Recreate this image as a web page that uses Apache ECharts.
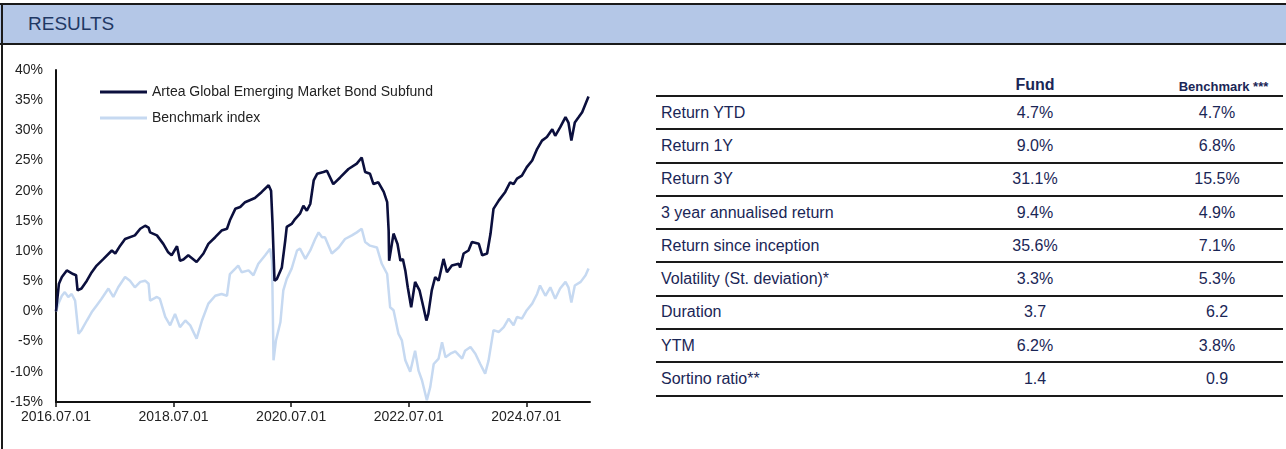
<!DOCTYPE html>
<html>
<head>
<meta charset="UTF-8">
<title>Results</title>
<script src="https://cdn.jsdelivr.net/npm/echarts@6/dist/echarts.min.js"></script>
<style>
body {
    margin: 0;
    padding: 0;
    background: #fff;
    font-family: "Liberation Sans", Arial, sans-serif;
}
.page {
    position: relative;
    width: 1286px;
    height: 449px;
    overflow: hidden;
}
.bar-top { position: absolute; left: 0; top: 3px; width: 1286px; height: 2px; background: #1a1a1a; }
.bar-head {
    position: absolute; left: 0; top: 5px; width: 1286px; height: 38px;
    background: #b4c7e7; color: #1f3864; font-size: 19px; line-height: 38px;
}
.bar-head span { padding-left: 28px; }
.bar-bottom { position: absolute; left: 0; top: 43px; width: 1286px; height: 2px; background: #1a1a1a; }
.bar-left { position: absolute; left: 1px; top: 3px; width: 2px; height: 446px; background: #1a1a1a; }
#main { position: absolute; left: 0; top: 0; width: 640px; height: 449px; }
.tbl { position: absolute; left: 656px; top: 64px; width: 627px; color: #1a2656; }
.row {
    display: flex; box-sizing: border-box; height: 33.3px;
    border-bottom: 2px solid #1a1a1a; align-items: center; font-size: 16px;
}
.row.head { height: 33px; align-items: flex-end; padding-bottom: 1px; font-weight: bold; }
.c1 { width: 275px; padding-left: 5px; }
.c2 { width: 198px; text-align: center; }
.c3 { width: 149px; text-align: center; padding-left: 17px; box-sizing: border-box; }
.head .c2 { font-size: 16px; }
.head .c3 { font-size: 13px; padding-left: 30px; padding-bottom: 0; }
</style>
</head>
<body>
<div class="page">
  <div id="main"></div>
  <div class="bar-top"></div>
  <div class="bar-head"><span>RESULTS</span></div>
  <div class="bar-bottom"></div>
  <div class="bar-left"></div>
  <div class="tbl" id="tbl"></div>
</div>
<script>
// months since 2016.07.01 / cumulative return in %
var fundMonth = [0,0.3,0.6,1.2,2.2,3.5,4.1,4.4,5.2,6.3,7.3,8.3,9.7,11.4,12.1,13.1,14.1,16.1,17.2,18.2,18.9,19.2,20.6,21.9,22.9,23.6,24.7,25.3,26.0,27.0,28.7,30.1,31.1,32.5,33.8,34.9,35.5,36.6,37.6,38.6,40.6,42.0,43.4,43.9,44.2,44.6,45.1,46.1,46.8,47.1,48.1,48.8,49.8,50.5,51.2,51.9,52.6,53.3,54.6,55.3,56.6,58.0,59.7,61.4,62.4,63.1,64.1,64.8,65.8,66.9,67.6,67.9,68.0,68.9,69.7,70.3,70.8,71.3,71.8,72.5,73.3,74.2,75.0,75.6,76.0,76.7,77.4,78.1,79.1,79.8,80.8,82.2,82.5,83.2,84.2,84.9,86.3,87.0,88.0,88.7,89.3,90.4,91.7,92.7,93.4,94.1,95.1,96.1,97.2,98.2,99.2,100.2,101.3,101.9,102.9,104.0,104.6,105.2,105.9,106.7,107.4,108.1,108.7];
var fundValue = [0.0,-0.2,4.6,5.7,6.8,6.2,6.0,3.5,3.8,5.1,6.5,7.6,8.7,10.1,9.6,10.9,12.0,12.6,13.7,14.2,13.9,13.1,12.6,11.2,9.8,9.3,10.8,8.4,8.6,9.3,8.2,9.6,11.2,12.3,13.4,13.7,15.1,17.0,17.3,18.1,18.8,19.8,20.9,20.0,14.5,5.1,5.4,7.3,11.8,14.0,14.5,15.3,16.2,17.5,16.7,17.8,21.7,22.8,23.1,23.3,21.1,22.2,23.6,24.5,25.5,23.1,22.8,21.1,21.4,19.8,18.1,13.4,8.4,12.9,11.2,8.4,8.7,6.8,4.0,0.7,4.9,3.5,0.7,-1.5,-0.4,3.5,5.7,5.1,8.7,6.5,7.6,7.9,7.3,9.6,10.1,11.5,11.2,9.3,9.6,12.9,17.0,18.4,19.8,21.4,21.1,22.0,22.5,23.9,25.0,26.9,28.3,28.9,30.2,29.1,30.5,32.2,31.3,28.3,31.3,32.2,33.0,34.4,35.6];

var benchMonth = [0,0.5,1.2,1.8,2.5,3.2,3.9,4.6,5.2,6.3,7.3,8.3,9.3,10.7,11.7,12.7,14.1,15.1,16.1,17.2,18.2,18.9,19.2,20.6,21.2,22.3,23.3,24.3,25.3,26.4,27.4,28.7,29.8,31.1,32.5,33.8,34.9,35.5,36.6,37.2,37.9,39.3,40.3,41.3,42.7,43.7,44.1,44.4,44.9,45.8,46.4,47.1,48.1,49.2,49.8,50.9,51.9,52.9,53.6,54.3,54.9,56.3,57.7,59.0,60.4,61.4,62.4,63.1,64.1,65.5,66.5,67.6,68.2,68.9,69.9,70.6,71.3,72.3,73.3,74.0,74.7,75.7,76.4,77.1,78.1,78.8,79.5,80.5,81.5,82.9,83.5,84.6,85.6,86.6,87.6,88.3,89.3,90.4,91.4,92.4,93.4,94.1,95.1,96.1,97.2,98.2,98.8,99.9,100.9,101.9,102.9,104.0,104.6,105.2,105.9,107.1,108.1,108.7];
var benchValue = [0.0,1.3,2.6,3.2,2.4,2.9,1.8,-3.7,-3.1,-1.5,-0.1,1.0,2.1,3.8,2.4,4.0,5.7,5.1,4.0,4.9,5.1,4.6,1.8,2.4,2.1,-0.9,-2.3,-0.4,-2.6,-1.5,-2.3,-4.5,-1.5,1.3,2.6,2.9,2.6,6.2,7.1,7.6,6.5,6.8,6.0,7.9,9.3,10.4,8.4,-8.1,-4.8,-1.8,3.5,5.4,7.1,10.1,10.4,8.7,10.1,12.0,13.1,12.3,12.3,9.6,10.6,12.0,12.6,13.1,13.7,11.5,10.9,10.6,7.9,6.2,0.7,0.2,-3.7,-4.8,-8.1,-10.0,-6.5,-9.8,-11.4,-14.7,-12.5,-8.7,-7.8,-5.1,-7.6,-7.0,-6.6,-7.8,-6.5,-5.9,-7.0,-8.7,-10.3,-8.1,-3.1,-3.4,-2.6,-1.2,-2.3,-0.9,-1.2,0.2,1.3,2.9,4.3,2.6,4.0,2.1,3.8,4.9,4.0,1.5,4.3,4.9,6.0,7.1];

var xTickMonths = [0, 24, 48, 72, 96];
var xTickLabels = ['2016.07.01', '2018.07.01', '2020.07.01', '2022.07.01', '2024.07.01'];

var seriesNames = ['Artea Global Emerging Market Bond Subfund', 'Benchmark index'];

var tableHead = ['Fund', 'Benchmark ***'];
var rowLabels = ['Return YTD', 'Return 1Y', 'Return 3Y', '3 year annualised return', 'Return since inception',
                 'Volatility (St. deviation)*', 'Duration', 'YTM', 'Sortino ratio**'];
var fundStats = ['4.7%', '9.0%', '31.1%', '9.4%', '35.6%', '3.3%', '3.7', '6.2%', '1.4'];
var benchStats = ['4.7%', '6.8%', '15.5%', '4.9%', '7.1%', '5.3%', '6.2', '3.8%', '0.9'];

function pairs(xs, ys) {
    var out = [];
    for (var i = 0; i < xs.length; i++) out.push([xs[i], ys[i]]);
    return out;
}

// table
var html = '<div class="row head"><div class="c1"></div><div class="c2">' + tableHead[0] +
           '</div><div class="c3">' + tableHead[1] + '</div></div>';
for (var r = 0; r < rowLabels.length; r++) {
    html += '<div class="row"><div class="c1">' + rowLabels[r] + '</div><div class="c2">' + fundStats[r] +
            '</div><div class="c3">' + benchStats[r] + '</div></div>';
}
document.getElementById('tbl').innerHTML = html;

var chart = echarts.init(document.getElementById('main'));
var axisFont = { color: '#222', fontSize: 14, fontFamily: 'Liberation Sans, Arial, sans-serif' };

chart.setOption({
    animation: false,
    grid: { left: 56, top: 70, width: 534, height: 332, containLabel: false },
    legend: {
        data: seriesNames,
        orient: 'vertical',
        left: 95,
        top: 80,
        itemWidth: 47,
        itemHeight: 3,
        itemGap: 12,
        icon: 'rect',
        textStyle: { color: '#222', fontSize: 14, fontFamily: 'Liberation Sans, Arial, sans-serif' }
    },
    xAxis: {
        type: 'value',
        min: 0,
        max: 109,
        interval: 24,
        splitLine: { show: false },
        axisLine: { onZero: false, lineStyle: { color: '#111', width: 2 } },
        axisTick: { customValues: xTickMonths, length: 5, lineStyle: { color: '#111', width: 1.5 } },
        axisLabel: Object.assign({
            customValues: xTickMonths,
            margin: 8,
            formatter: function (v) {
                var i = xTickMonths.indexOf(v);
                return i >= 0 ? xTickLabels[i] : '';
            }
        }, axisFont)
    },
    yAxis: {
        type: 'value',
        min: -15,
        max: 40,
        interval: 5,
        splitLine: { show: false },
        axisLine: { show: true, lineStyle: { color: '#111', width: 2 } },
        axisTick: { show: false },
        axisLabel: Object.assign({ margin: 13, formatter: '{value}%' }, axisFont)
    },
    series: [
        {
            name: seriesNames[1],
            type: 'line',
            data: pairs(benchMonth, benchValue),
            showSymbol: false,
            symbol: 'none',
            color: '#c6d9f1',
            lineStyle: { color: '#c6d9f1', width: 2.5 },
            z: 2
        },
        {
            name: seriesNames[0],
            type: 'line',
            data: pairs(fundMonth, fundValue),
            showSymbol: false,
            symbol: 'none',
            color: '#0b0f3d',
            lineStyle: { color: '#0b0f3d', width: 2.6 },
            z: 3
        }
    ]
});
</script>
</body>
</html>
